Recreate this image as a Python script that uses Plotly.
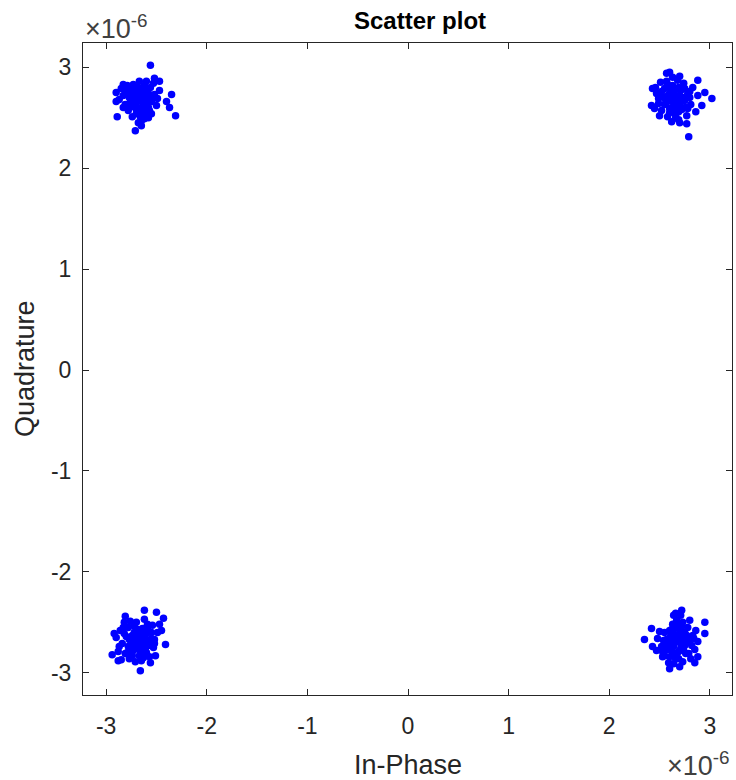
import plotly.graph_objects as go

# Values in units of 1e-6 (In-Phase, Quadrature)
tl_i = [-2.66,-2.60,-2.72,-2.63,-2.69,-2.55,-2.77,-2.61,-2.70,-2.58,-2.75,-2.52,-2.81,-2.64,-2.56,-2.73,-2.67,-2.83,-2.49,-2.78,
        -2.62,-2.68,-2.65,-2.55,-2.85,-2.60,-2.50,-2.74,-2.59,-2.71,-2.64,-2.58,-2.87,-2.53,-2.79,-2.70,-2.66,-2.83,-2.47,-2.61,
        -2.63,-2.69,-2.66,-2.58,-2.74,-2.67,-2.61,-2.72,-2.77,-2.54,-2.62,-2.70,-2.80,-2.57,-2.65,-2.76,-2.68,-2.60,-2.73,-2.64,
        -2.56,-2.89,-2.71,-2.31,-2.35,-2.47,-2.52,-2.37,-2.40,-2.90,-2.90,-2.83]
tl_q = [2.68,2.71,2.65,2.62,2.74,2.66,2.70,2.78,2.58,2.60,2.77,2.73,2.63,2.55,2.80,2.83,2.86,2.72,2.69,2.57,
        2.49,2.45,2.42,2.54,2.79,2.86,2.62,2.51,2.67,2.71,2.73,2.50,2.68,2.84,2.82,2.64,2.51,2.60,2.77,2.58,
        2.66,2.69,2.76,2.74,2.61,2.59,2.52,2.79,2.64,2.70,2.82,2.54,2.76,2.57,2.47,2.73,2.80,2.63,2.68,2.60,
        3.02,2.51,2.37,2.52,2.73,2.86,2.89,2.60,2.66,2.75,2.66,2.83]

tr_i = [2.64,2.70,2.58,2.67,2.61,2.75,2.53,2.69,2.60,2.72,2.55,2.78,2.49,2.66,2.74,2.57,2.63,2.47,2.81,2.52,
        2.69,2.62,2.77,2.46,2.70,2.58,2.65,2.60,2.72,2.55,2.83,2.68,2.51,2.76,2.45,2.63,2.80,2.57,2.70,2.66,
        2.62,2.67,2.59,2.73,2.66,2.56,2.71,2.63,2.69,2.52,2.78,2.60,2.75,2.58,2.66,2.49,2.80,2.64,2.70,2.61,
        2.79,3.02,2.88,2.95,2.92,2.77,2.43,2.42,2.50,2.60,2.86,2.88]
tr_q = [2.69,2.72,2.66,2.62,2.75,2.67,2.71,2.80,2.59,2.58,2.79,2.74,2.64,2.53,2.84,2.86,2.90,2.74,2.63,2.57,
        2.48,2.46,2.52,2.80,2.91,2.51,2.77,2.68,2.66,2.63,2.80,2.87,2.85,2.60,2.59,2.58,2.70,2.94,2.45,2.71,
        2.72,2.66,2.73,2.70,2.61,2.68,2.77,2.82,2.56,2.76,2.59,2.55,2.79,2.83,2.50,2.69,2.76,2.64,2.63,2.79,
        2.31,2.69,2.87,2.75,2.62,2.44,2.79,2.62,2.52,2.95,2.56,2.72]

bl_i = [-2.69,-2.63,-2.75,-2.66,-2.72,-2.58,-2.80,-2.64,-2.73,-2.61,-2.78,-2.55,-2.84,-2.67,-2.59,-2.76,-2.70,-2.86,-2.52,-2.81,
        -2.65,-2.71,-2.57,-2.88,-2.62,-2.53,-2.77,-2.62,-2.74,-2.67,-2.56,-2.90,-2.54,-2.82,-2.73,-2.69,-2.49,-2.85,-2.60,-2.78,
        -2.66,-2.71,-2.64,-2.77,-2.60,-2.69,-2.75,-2.58,-2.82,-2.66,-2.72,-2.55,-2.63,-2.79,-2.87,-2.59,-2.74,-2.68,-2.83,-2.52,
        -2.62,-2.81,-2.50,-2.43,-2.41,-2.94,-2.66,-2.88,-2.51,-2.92,-2.45,-2.47]
bl_q = [-2.66,-2.63,-2.69,-2.72,-2.60,-2.68,-2.64,-2.56,-2.78,-2.76,-2.55,-2.60,-2.71,-2.83,-2.52,-2.49,-2.50,-2.58,-2.67,-2.81,
        -2.88,-2.89,-2.84,-2.79,-2.47,-2.75,-2.86,-2.66,-2.63,-2.61,-2.90,-2.65,-2.53,-2.50,-2.71,-2.76,-2.60,-2.87,-2.80,-2.74,
        -2.68,-2.64,-2.71,-2.67,-2.61,-2.57,-2.75,-2.73,-2.61,-2.79,-2.54,-2.66,-2.85,-2.80,-2.74,-2.56,-2.83,-2.70,-2.55,-2.71,
        -2.38,-2.44,-2.40,-2.46,-2.72,-2.82,-2.98,-2.88,-2.83,-2.61,-2.58,-2.52]

br_i = [2.68,2.74,2.62,2.71,2.65,2.79,2.57,2.70,2.63,2.76,2.60,2.83,2.52,2.69,2.73,2.67,2.85,2.55,2.78,2.48,
        2.64,2.73,2.81,2.59,2.71,2.66,2.86,2.50,2.70,2.61,2.75,2.58,2.88,2.66,2.47,2.63,2.80,2.55,2.77,2.69,
        2.66,2.71,2.64,2.77,2.61,2.69,2.74,2.58,2.82,2.67,2.72,2.54,2.66,2.79,2.84,2.62,2.75,2.68,2.60,2.53,
        2.35,2.95,2.95,2.60,2.70,2.88,2.72,2.64,2.42,2.43,2.53,2.85]
br_q = [-2.69,-2.66,-2.72,-2.76,-2.62,-2.70,-2.67,-2.57,-2.80,-2.81,-2.58,-2.63,-2.74,-2.86,-2.50,-2.48,-2.77,-2.83,-2.55,-2.66,
        -2.91,-2.89,-2.86,-2.90,-2.43,-2.41,-2.58,-2.59,-2.68,-2.64,-2.73,-2.77,-2.69,-2.55,-2.78,-2.52,-2.48,-2.60,-2.63,-2.79,
        -2.66,-2.71,-2.74,-2.67,-2.69,-2.62,-2.78,-2.72,-2.73,-2.82,-2.54,-2.68,-2.86,-2.81,-2.66,-2.57,-2.60,-2.51,-2.84,-2.79,
        -2.67,-2.50,-2.61,-2.96,-2.94,-2.84,-2.38,-2.43,-2.56,-2.74,-2.84,-2.90]

tick_vals = [-3, -2, -1, 0, 1, 2, 3]
tick_text = ["-3", "-2", "-1", "0", "1", "2", "3"]

FONT = "Liberation Sans, Arial, sans-serif"

fig = go.Figure()
for xi, yq in [(tl_i, tl_q), (tr_i, tr_q), (bl_i, bl_q), (br_i, br_q)]:
    fig.add_trace(go.Scatter(x=xi, y=yq, mode="markers",
                             marker=dict(color="#0000FF", size=7.5, line=dict(width=0)),
                             showlegend=False, hoverinfo="x+y"))

axis_common = dict(showgrid=False, zeroline=False, showline=True, linecolor="#262626", linewidth=1,
                   mirror="allticks", ticks="inside", ticklen=6, tickcolor="#262626",
                   tickvals=tick_vals, ticktext=tick_text,
                   tickfont=dict(family=FONT, size=23, color="#262626"))

fig.update_layout(
    width=736, height=780,
    margin=dict(l=83, r=4, t=43, b=85),
    paper_bgcolor="white", plot_bgcolor="white",
    title=dict(text="<b>Scatter plot</b>", x=0.5707, xanchor="center", y=0.974, yanchor="middle",
               font=dict(family=FONT, size=24, color="black")),
    xaxis=dict(range=[-3.23, 3.22], ticklabelstandoff=10, **axis_common),
    yaxis=dict(range=[-3.22, 3.24], ticklabelstandoff=6, **axis_common),
    annotations=[
        dict(text="Quadrature", textangle=-90, xref="paper", yref="paper", x=0, y=0.5,
             xshift=-58, xanchor="center", yanchor="middle", showarrow=False,
             font=dict(family=FONT, size=27, color="#262626")),
        dict(text="In-Phase", xref="paper", yref="paper", x=0.5, y=0,
             yshift=-70, xanchor="center", yanchor="middle", showarrow=False,
             font=dict(family=FONT, size=27, color="#262626")),
        dict(text="×10<sup>-6</sup>", xref="paper", yref="paper", x=0, y=1,
             xanchor="left", yanchor="bottom", yshift=-3, showarrow=False,
             font=dict(family=FONT, size=27, color="#404040")),
        dict(text="×10<sup>-6</sup>", xref="paper", yref="paper", x=1, y=0,
             xanchor="right", yanchor="top", yshift=-50, showarrow=False,
             font=dict(family=FONT, size=27, color="#404040")),
    ],
)

fig.write_html("out.html", config={"displayModeBar": False},
               post_script="document.body.style.margin='0';document.body.style.overflow='hidden';")
